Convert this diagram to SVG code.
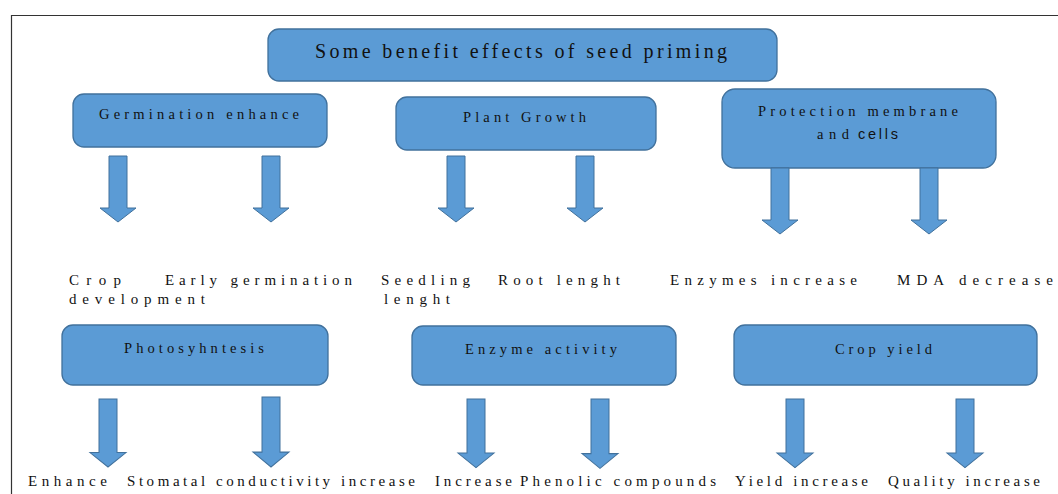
<svg xmlns="http://www.w3.org/2000/svg" width="1058" height="494" viewBox="0 0 1058 494">
<style>
.box{fill:#5B9BD5;stroke:#41719C;stroke-width:1.3}
.arr{fill:#5B9BD5;stroke:#41719C;stroke-width:1}
.t{font-family:"Liberation Serif","Times New Roman",serif;fill:#111}
.lb{font-size:14.5px}
.ou{font-size:15px}
.ti{font-size:20px}
.sans{font-family:"Liberation Sans",Arial,sans-serif}
</style>
<defs>
<path id="arrow" d="M-9,0 H9 V52 H18 L0,66 L-18,52 H-9 Z"/>
</defs>
<rect width="1058" height="494" fill="#fff"/>
<path d="M11.5,494 V15.5 H1058" fill="none" stroke="#333" stroke-width="1.2"/>

<g id="title">
<rect class="box" x="268" y="29" width="509" height="52" rx="11"/>
<text class="t ti" x="315" y="58" textLength="412" lengthAdjust="spacing">Some benefit effects of seed priming</text>
</g>

<g id="germination">
<rect class="box" x="73" y="94" width="254" height="53" rx="11"/>
<text class="t lb" x="99" y="119" textLength="200" lengthAdjust="spacing">Germination enhance</text>
</g>
<g id="plant-growth">
<rect class="box" x="396" y="97" width="260" height="53" rx="11"/>
<text class="t lb" x="463" y="122" textLength="123" lengthAdjust="spacing">Plant Growth</text>
</g>
<g id="protection">
<rect class="box" x="722" y="89" width="274" height="79" rx="13"/>
<text class="t lb" x="758" y="116" textLength="200" lengthAdjust="spacing">Protection membrane</text>
<text class="t lb" x="817" y="139" textLength="32" lengthAdjust="spacing">and</text>
<text class="t lb sans" x="858" y="139" textLength="40" lengthAdjust="spacing">cells</text>
</g>

<g id="photosynthesis">
<rect class="box" x="62" y="325" width="266" height="60" rx="11"/>
<text class="t lb" x="124" y="353" textLength="140" lengthAdjust="spacing">Photosyhntesis</text>
</g>
<g id="enzyme-activity">
<rect class="box" x="412" y="326" width="264" height="59" rx="11"/>
<text class="t lb" x="465" y="354" textLength="152" lengthAdjust="spacing">Enzyme activity</text>
</g>
<g id="crop-yield">
<rect class="box" x="734" y="325" width="303" height="60" rx="11"/>
<text class="t lb" x="835" y="354" textLength="97" lengthAdjust="spacing">Crop yield</text>
</g>

<g id="connectors">
<use href="#arrow" class="arr" transform="translate(118,156)"/>
<use href="#arrow" class="arr" transform="translate(271,156)"/>
<use href="#arrow" class="arr" transform="translate(456,156)"/>
<use href="#arrow" class="arr" transform="translate(585,156)"/>
<use href="#arrow" class="arr" transform="translate(780,168)"/>
<use href="#arrow" class="arr" transform="translate(929,168)"/>
<use href="#arrow" class="arr" transform="translate(108,399) scale(1,1.03)"/>
<use href="#arrow" class="arr" transform="translate(271,397) scale(1,1.06)"/>
<use href="#arrow" class="arr" transform="translate(476,399) scale(1,1.04)"/>
<use href="#arrow" class="arr" transform="translate(600,399) scale(1,1.05)"/>
<use href="#arrow" class="arr" transform="translate(795,399) scale(1,1.04)"/>
<use href="#arrow" class="arr" transform="translate(965,399) scale(1,1.04)"/>
</g>

<g id="outcomes-row1">
<text class="t ou" x="69" y="285" textLength="52" lengthAdjust="spacing">Crop</text>
<text class="t ou" x="69" y="304" textLength="136" lengthAdjust="spacing">development</text>
<text class="t ou" x="165" y="285" textLength="187" lengthAdjust="spacing">Early germination</text>
<text class="t ou" x="381" y="285" textLength="89" lengthAdjust="spacing">Seedling</text>
<text class="t ou" x="384" y="304" textLength="66" lengthAdjust="spacing">lenght</text>
<text class="t ou" x="498" y="285" textLength="122" lengthAdjust="spacing">Root lenght</text>
<text class="t ou" x="670" y="285" textLength="187" lengthAdjust="spacing">Enzymes increase</text>
<text class="t ou" x="897" y="285" textLength="156" lengthAdjust="spacing">MDA decrease</text>
</g>

<g id="outcomes-row2">
<text class="t ou" x="28" y="486" textLength="79" lengthAdjust="spacing">Enhance</text>
<text class="t ou" x="127" y="486" textLength="288" lengthAdjust="spacing">Stomatal conductivity increase</text>
<text class="t ou" x="435" y="486" textLength="77" lengthAdjust="spacing">Increase</text>
<text class="t ou" x="520" y="486" textLength="196" lengthAdjust="spacing">Phenolic compounds</text>
<text class="t ou" x="735" y="486" textLength="133" lengthAdjust="spacing">Yield increase</text>
<text class="t ou" x="888" y="486" textLength="152" lengthAdjust="spacing">Quality increase</text>
</g>
</svg>
